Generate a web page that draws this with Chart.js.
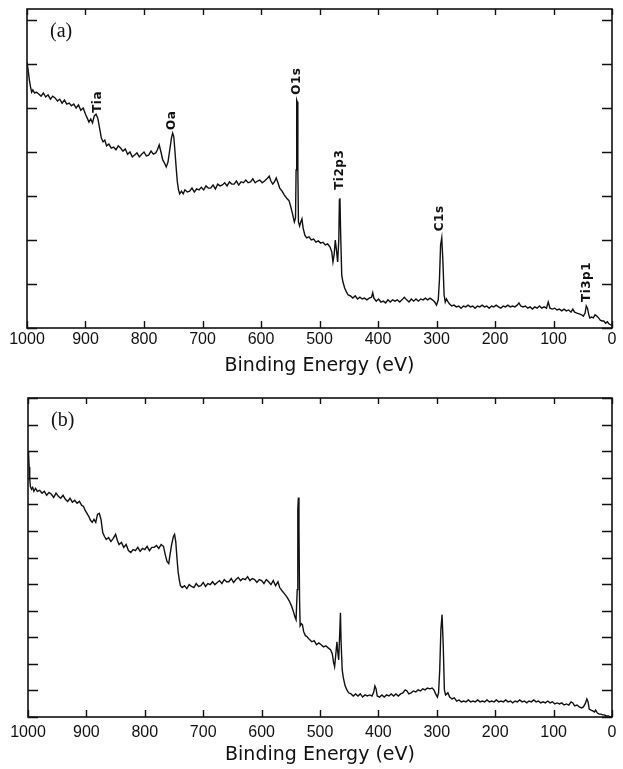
<!DOCTYPE html>
<html><head><meta charset="utf-8">
<script src="https://cdn.jsdelivr.net/npm/chart.js@4.4.1/dist/chart.umd.min.js"></script>
<style>
html,body{margin:0;padding:0;background:#fff;width:623px;height:769px;overflow:hidden}
canvas{position:absolute;left:0}
#ca{top:0}
#cb{top:385px}
</style></head><body>
<canvas id="ca" width="623" height="385"></canvas>
<canvas id="cb" width="623" height="384"></canvas>
<script>
// ---------- data (binding energy in eV, intensity in arbitrary units) ----------
const energyA = [1000,998,996,994,992,990,987,984,980,976,972,968,964,960,956,952,948,944,940,936,932,928,924,920,916,912,908,904,900,897,894,891,888,885,882,879,876,873,870,867,864,860,856,852,848,844,840,836,832,828,824,820,816,812,808,804,800,796,792,788,784,780,777,774,771,768,765,762,759,756,753,751,749,747,745,743,741,739,736,733,730,726,722,718,714,710,706,702,698,694,690,686,682,678,674,670,666,662,658,654,650,646,642,638,634,630,626,622,618,614,610,606,602,598,594,590,586,583,580,577,574,571,568,564,560,556,552,549,546,543,541,540,539,538,537,536,534,532,530,528,525,522,518,514,510,506,502,498,494,490,486,482,479,477,475,473,471,469,467,466,465,464,462,460,457,454,451,447,443,439,435,431,427,423,419,415,411,409,407,403,399,395,391,387,383,379,375,371,367,363,359,355,351,347,343,339,335,331,327,323,319,315,311,307,303,300,297,295,293,291,289,287,285,283,281,278,274,270,266,262,258,254,250,246,242,238,234,230,226,222,218,214,210,206,202,198,194,190,186,182,178,174,170,166,162,159,156,152,148,144,140,136,132,128,124,120,116,112,109,106,102,98,94,90,86,82,78,74,70,67,64,60,56,52,49,46,44,42,40,38,35,32,29,26,23,20,17,14,11,8,5,2,0];
const countsA = [6.05,5.86,5.64,5.48,5.36,
5.41,5.34,5.36,5.32,5.27,5.34,5.25,5.30,5.20,5.27,5.23,5.16,5.20,5.11,5.18,5.09,5.11,5.05,5.09,5.00,5.07,4.95,5.00,
4.86,4.77,4.68,4.75,4.66,4.82,4.86,4.77,4.55,4.32,4.23,4.27,4.14,
4.18,4.09,4.11,4.05,4.14,4.09,4.02,4.07,3.95,4.00,3.89,3.93,3.98,3.89,3.95,4.00,3.91,3.93,4.02,3.95,3.98,
4.05,4.16,4.00,3.82,3.75,3.66,3.77,4.05,4.32,4.43,4.34,4.00,3.64,3.32,3.14,3.05,
3.11,3.05,3.14,3.09,3.11,3.18,3.09,3.16,3.14,3.20,3.14,3.23,3.18,3.18,3.25,3.16,3.27,3.23,3.25,3.30,3.23,3.32,3.27,3.27,3.34,3.25,3.32,3.30,3.36,3.30,3.32,3.39,3.30,3.34,3.36,3.30,3.34,3.39,
3.45,3.34,3.27,3.32,3.41,3.30,3.18,3.11,3.02,2.95,2.89,2.75,2.59,2.41,2.50,3.59,5.18,5.14,3.59,2.41,2.32,2.41,2.48,2.27,2.11,2.05,2.07,2.00,2.02,1.95,1.98,1.93,1.95,1.89,1.91,1.84,1.73,1.50,1.66,2.00,1.77,1.50,2.00,2.91,2.95,2.23,1.20,1.05,0.91,0.82,0.75,0.73,0.68,0.73,0.66,0.70,0.66,0.68,0.64,0.68,0.70,0.80,0.68,0.61,0.66,0.59,0.61,0.57,0.64,0.59,0.64,0.61,0.64,0.59,0.64,0.70,0.64,0.59,0.66,0.61,0.66,0.61,0.66,0.64,0.68,0.64,0.68,0.64,0.59,0.52,0.64,1.09,1.89,2.05,1.50,0.75,0.59,0.66,0.61,0.55,0.50,0.52,0.48,0.50,0.45,0.50,0.48,0.52,0.48,0.50,0.45,0.50,0.48,0.52,0.48,0.50,0.45,0.50,0.48,0.52,0.48,0.45,0.50,0.48,0.52,0.48,0.50,0.48,0.52,0.57,0.50,0.48,0.50,0.45,0.48,0.43,0.48,0.45,0.50,0.45,0.48,0.45,0.59,0.45,0.43,0.45,0.41,0.43,0.39,0.43,0.39,0.41,0.36,0.43,0.36,0.34,0.32,0.30,0.27,0.34,0.50,0.45,0.32,0.23,0.25,0.23,0.30,0.27,0.23,0.18,0.16,0.16,0.11,0.14,0.09,0.07,0.07];

const energyB = [1000,999,998,997,996,994,992,990,987,984,980,976,972,968,964,960,956,952,948,944,940,936,932,928,924,920,916,912,908,905,902,899,896,893,890,887,884,881,878,875,872,869,866,862,858,854,850,847,844,840,836,832,828,824,820,816,812,808,804,800,796,792,788,784,780,776,772,768,765,762,759,757,754,751,749,747,745,743,741,739,736,732,728,724,720,716,712,708,704,700,696,692,688,684,680,676,672,668,664,660,656,652,648,644,640,636,632,628,624,620,616,612,608,604,600,596,592,588,584,580,576,572,569,565,561,557,553,549,546,543,541,539,538,537,536,535,534,532,530,528,525,522,518,514,510,506,502,498,494,490,486,482,479,477,475,473,471,470,468,466,465,464,462,460,457,454,451,447,443,439,435,431,427,423,419,415,411,408,406,404,402,398,394,390,386,382,378,374,370,366,362,358,354,351,348,344,340,336,332,328,324,320,316,312,308,305,302,299,297,295,293,291,289,287,285,283,281,278,274,270,266,262,258,254,250,246,242,238,234,230,226,222,218,214,210,206,202,198,194,190,186,182,178,174,170,166,162,158,154,150,146,142,138,134,130,126,122,118,114,110,106,102,98,94,90,86,82,78,74,70,67,64,60,56,52,49,46,43,41,39,36,33,30,28,25,22,19,16,13,10,6,3,0];
const countsB = [10.0,9.89,9.40,8.94,8.68,8.57,8.64,
8.49,8.60,8.49,8.53,8.42,8.49,8.34,8.45,8.38,8.26,8.42,8.30,8.23,8.34,8.19,8.11,8.23,8.08,8.15,8.04,8.11,7.96,
7.92,7.77,7.66,7.55,7.40,7.32,7.43,7.32,7.62,7.66,7.43,6.94,6.79,6.68,6.75,6.60,6.72,6.87,6.64,6.49,6.57,6.38,6.49,6.26,
6.19,6.30,6.26,6.38,6.23,6.34,6.30,6.42,6.26,6.38,6.38,6.45,6.34,6.49,6.42,
6.11,5.85,5.77,6.08,6.49,6.79,6.87,6.60,6.00,5.47,5.17,4.94,
4.87,
4.94,4.83,4.98,4.91,4.87,5.02,4.91,4.94,5.06,4.91,5.02,4.98,5.09,4.98,5.06,5.13,5.02,5.17,5.09,5.09,5.21,5.06,5.17,5.25,5.13,5.21,5.17,5.28,5.13,5.21,5.17,5.06,5.17,5.13,5.02,5.17,5.09,4.98,5.13,
4.94,5.09,4.87,4.75,4.64,4.53,4.38,4.19,4.00,3.77,3.66,4.79,7.81,8.26,7.06,4.42,3.43,3.51,3.47,3.21,3.06,3.02,2.91,2.83,2.87,2.72,2.79,2.72,2.64,2.68,2.60,2.53,2.38,2.08,1.89,2.34,2.83,2.53,2.15,3.28,3.92,2.91,1.77,1.47,1.17,1.02,0.91,0.87,0.79,0.87,0.79,0.87,0.75,0.83,0.79,0.83,0.79,0.94,1.17,1.06,0.79,0.75,0.83,0.75,0.83,0.79,0.87,0.79,0.87,0.79,0.87,0.91,1.02,0.98,0.87,0.91,0.98,0.94,1.02,0.98,1.06,1.02,1.09,1.06,1.09,1.02,0.87,0.75,0.91,1.77,3.28,3.85,2.72,1.02,0.83,0.87,0.91,0.75,0.68,0.72,0.60,0.64,0.57,0.60,0.57,0.64,0.57,0.60,0.57,0.64,0.57,0.60,0.57,0.64,0.57,0.60,0.57,0.64,0.57,0.60,0.57,0.64,0.57,0.60,0.53,0.60,0.57,0.64,0.57,0.60,0.53,0.60,0.57,0.64,0.57,0.60,0.53,0.57,0.53,0.60,0.53,0.57,0.49,0.53,0.49,0.53,0.45,0.49,0.45,0.57,0.53,0.42,0.45,0.38,0.34,0.38,0.49,0.68,0.57,0.30,0.26,0.23,0.19,0.26,0.15,0.11,0.11,0.08,0.08,0.04,0.04,0.00,0.00];

// x tick labels (eV)
const xTickLabels = ['1000','900','800','700','600','500','400','300','200','100','0'];
// peak annotations for panel (a)
const peakNames  = ['Tia','Oa','O1s','Ti2p3','C1s','Ti3p1'];
const peakEnergy = [879, 752, 538, 465, 294, 43];
const peakLabelY = [4.89, 4.50, 5.30, 3.14, 2.20, 0.59];

// ---------- chart builder ----------
function framePlugin(tag, withPeaks) {
  return {
    id: 'frame' + tag,
    afterDraw(chart) {
      const ctx = chart.ctx, a = chart.chartArea;
      const xs = chart.scales.x, ys = chart.scales.y;
      ctx.save();
      ctx.strokeStyle = '#111';
      ctx.lineWidth = 1.6;
      ctx.strokeRect(a.left, a.top, a.right - a.left, a.bottom - a.top);
      ctx.lineWidth = 1.4;
      ctx.beginPath();
      ys.ticks.forEach(t => {
        const py = Math.round(ys.getPixelForValue(t.value)) + 0.5;
        ctx.moveTo(a.left, py); ctx.lineTo(a.left + 10, py);
        ctx.moveTo(a.right, py); ctx.lineTo(a.right - 10, py);
      });
      xs.ticks.forEach(t => {
        const px = Math.round(xs.getPixelForValue(t.value)) + 0.5;
        ctx.moveTo(px, a.bottom); ctx.lineTo(px, a.bottom - 7);
        ctx.moveTo(px, a.top); ctx.lineTo(px, a.top + 6);
      });
      ctx.stroke();
      // panel tag
      ctx.fillStyle = '#111';
      ctx.font = '20px "Liberation Serif", "Times New Roman", serif';
      ctx.textAlign = 'left';
      ctx.textBaseline = 'middle';
      ctx.fillText(tag, a.left + 23, a.top + 23);
      if (withPeaks) {
        ctx.font = 'bold 12px "DejaVu Sans", sans-serif';
        try { ctx.letterSpacing = '0.5px'; } catch (e) {}
        peakNames.forEach((name, i) => {
          const px = xs.getPixelForValue(peakEnergy[i]);
          const py = ys.getPixelForValue(peakLabelY[i]);
          ctx.save();
          ctx.translate(px, py);
          ctx.rotate(-Math.PI / 2);
          ctx.textAlign = 'left';
          ctx.textBaseline = 'middle';
          ctx.fillText(name, 0, 0);
          ctx.restore();
        });
      }
      ctx.restore();
    }
  };
}

function makeChart(id, energy, counts, yMax, dims, tag, withPeaks) {
  const hidden = {display: false, drawTicks: false};
  return new Chart(document.getElementById(id), {
    type: 'line',
    data: {
      datasets: [{
        data: energy.map((e, i) => ({x: e, y: counts[i]})),
        borderColor: '#111',
        borderWidth: 1.4,
        pointRadius: 0,
        tension: 0,
        fill: false
      }]
    },
    options: {
      responsive: false,
      animation: false,
      layout: {padding: 0},
      plugins: {legend: {display: false}, tooltip: {enabled: false}},
      scales: {
        x: {
          type: 'linear', position: 'bottom', min: 0, max: 1000, reverse: true,
          grid: hidden, border: {display: false},
          ticks: {
            stepSize: 100, autoSkip: false, maxRotation: 0, minRotation: 0,
            padding: dims.tickPad, color: '#111',
            font: {family: '"Liberation Sans", Arial, sans-serif', size: 16},
            callback: (v) => xTickLabels[Math.round((1000 - v) / 100)]
          },
          title: {
            display: true, text: 'Binding Energy (eV)', color: '#111',
            font: {family: '"DejaVu Sans", sans-serif', size: 19},
            padding: {top: 0, bottom: dims.titlePad}
          },
          afterFit: s => { s.height = dims.bottom; }
        },
        xt: {
          type: 'linear', position: 'top', min: 0, max: 1000, reverse: true,
          grid: hidden, border: {display: false}, ticks: {display: false},
          afterFit: s => { s.height = dims.top; }
        },
        y: {
          type: 'linear', position: 'left', min: 0, max: yMax,
          grid: hidden, border: {display: false},
          ticks: {display: false, stepSize: 1, includeBounds: false},
          afterFit: s => { s.width = dims.left; }
        },
        yr: {
          type: 'linear', position: 'right', min: 0, max: yMax,
          grid: hidden, border: {display: false}, ticks: {display: false},
          afterFit: s => { s.width = dims.right; }
        }
      }
    },
    plugins: [framePlugin(tag, withPeaks)]
  });
}

makeChart('ca', energyA, countsA, 7.25,
  {left: 27, right: 11, top: 9, bottom: 57, tickPad: 2, titlePad: 8}, '(a)', true);
makeChart('cb', energyB, countsB, 12,
  {left: 28, right: 11, top: 13, bottom: 52, tickPad: 6, titlePad: 3}, '(b)', false);
</script>
</body></html>
